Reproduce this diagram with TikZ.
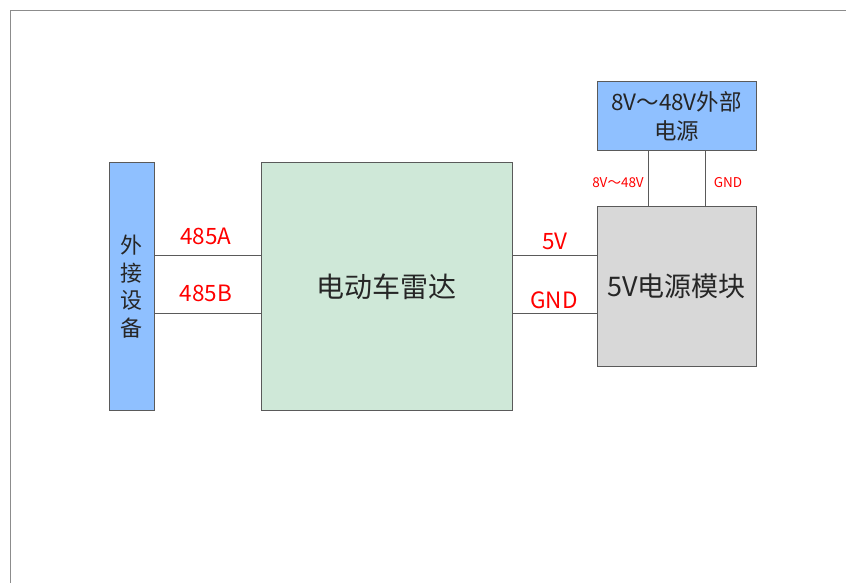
\documentclass[tikz,border=0pt]{standalone}
\usepackage{fontspec}
\setmainfont{Noto Sans CJK SC}
\definecolor{bluef}{HTML}{8FC0FF}
\definecolor{greenf}{HTML}{CFE8D8}
\definecolor{grayf}{HTML}{D8D8D8}
\definecolor{edge}{HTML}{5A5A5A}
\definecolor{txt}{HTML}{262626}
\tikzset{
  blk/.style={draw=edge, line width=1pt, inner sep=0pt, text=txt, align=center},
  wire/.style={draw=edge, line width=0.9pt},
  lbl/.style={text=red, inner sep=0pt, font=\fontsize{22.5}{24}\selectfont},
  slbl/.style={text=red, inner sep=0pt, font=\fontsize{13.5}{15}\selectfont},
}
\begin{document}
\begin{tikzpicture}[x=1pt,y=-1pt]
\useasboundingbox (0,0) rectangle (846,583);
\draw[color=gray!90, line width=1pt] (846,11) -- (10.5,11) -- (10.5,583);
\node[blk, fill=bluef, minimum width=45pt, minimum height=247pt, font=\fontsize{22}{27.5}\selectfont] (dev) at (131.5,286.5) {外\\接\\设\\备};
\node[blk, fill=greenf, minimum width=251pt, minimum height=247pt, font=\fontsize{28}{32}\selectfont] (radar) at (386.5,286.5) {电动车雷达};
\node[blk, fill=grayf, minimum width=159pt, minimum height=160pt, font=\fontsize{27}{30}\selectfont] (psu) at (676.5,286) {5V电源模块};
\node[blk, fill=bluef, minimum width=159pt, minimum height=69pt, font=\fontsize{22.5}{29}\selectfont] (ext) at (676.5,116.5) {8V～48V外部\\电源};
\coordinate (a1) at (dev.east |- 0,255);
\coordinate (b1) at (dev.east |- 0,313);
\draw[wire] (a1) -- (radar.west |- a1);
\draw[wire] (b1) -- (radar.west |- b1);
\coordinate (p1) at (radar.east |- 0,255);
\coordinate (g1) at (radar.east |- 0,313);
\draw[wire] (p1) -- (psu.west |- p1);
\draw[wire] (g1) -- (psu.west |- g1);
\coordinate (v1) at (ext.south -| 648,0);
\coordinate (v2) at (ext.south -| 705,0);
\draw[wire] (v1) -- (psu.north -| v1);
\draw[wire] (v2) -- (psu.north -| v2);
\node[lbl] (la) at (206,236) {485A};
\node[lbl] (lb) at (206,293) {485B};
\node[lbl] (l5) at (555,241) {5V};
\node[lbl] (lg) at (554,300) {GND};
\node[slbl] (s1) at (618,183) {8V～48V};
\node[slbl] (s2) at (728,183) {GND};
\end{tikzpicture}
\end{document}
